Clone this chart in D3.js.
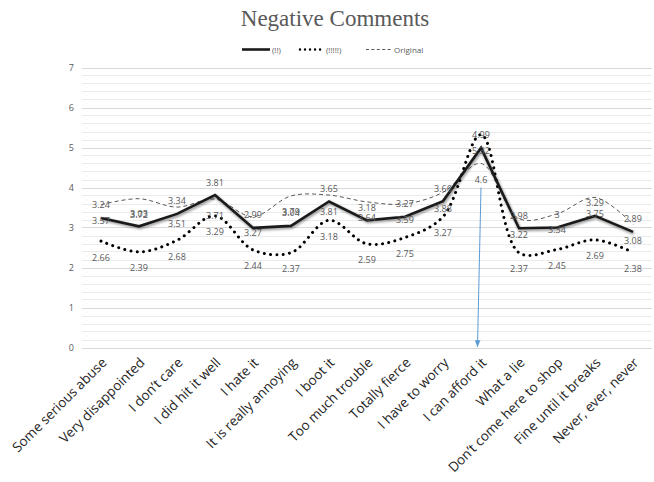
<!DOCTYPE html>
<html>
<head>
<meta charset="utf-8">
<script src="https://cdn.jsdelivr.net/npm/d3@7"></script>
<style>
  html, body { margin: 0; padding: 0; background: #fff; }
  svg { display: block; }
</style>
</head>
<body>
<svg id="chart" width="654" height="482"></svg>
<script>
// Comment phrases along the x axis
const categories = [
  "Some serious abuse", "Very disappointed", "I don’t care", "I did hit it well",
  "I hate it", "It is really annoying", "I boot it", "Too much trouble",
  "Totally fierce", "I have to worry", "I can afford it", "What a lie",
  "Don’t come here to shop", "Fine until it breaks", "Never, ever, never"
];
// Mean scores per phrase
const doubleBang = [3.24, 3.03, 3.34, 3.81, 2.99, 3.04, 3.65, 3.18, 3.27, 3.66, 4.99, 2.98, 3, 3.29, 2.89];
const fiveBang   = [2.66, 2.39, 2.68, 3.29, 2.44, 2.37, 3.18, 2.59, 2.75, 3.27, 5.32, 2.37, 2.45, 2.69, 2.38];
const original   = [3.57, 3.72, 3.51, 3.71, 3.27, 3.79, 3.81, 3.64, 3.59, 3.88, 4.6, 3.22, 3.34, 3.75, 3.08];
const seriesNames = ["(!!)", "(!!!!!)", "Original"];
const yTicks = [0, 1, 2, 3, 4, 5, 6, 7];
const titleText = "Negative Comments";

const svg = d3.select("#chart");
const textColor = "#595959";
const sans = "'Open Sans', 'Liberation Sans', sans-serif";

const x = d3.scalePoint().domain(categories).range([82, 652]).padding(0.5);
const y = d3.scaleLinear().domain([0, 7]).range([347.5, 67.5]);

// soft shadow for the heavy line
const defs = svg.append("defs");
defs.append("filter").attr("id", "soft")
  .attr("x", "-5%").attr("y", "-20%").attr("width", "110%").attr("height", "140%")
  .append("feGaussianBlur").attr("stdDeviation", 1.2);
defs.append("marker").attr("id", "arrow")
  .attr("viewBox", "0 0 10 10").attr("refX", 9).attr("refY", 5)
  .attr("markerWidth", 7).attr("markerHeight", 7).attr("orient", "auto")
  .append("path").attr("d", "M0,1 L10,5 L0,9 Z").attr("fill", "#5b9bd5");

// gridlines: minor every 0.2, major every 1
const minor = d3.range(0, 7.0001, 0.2);
svg.append("g").selectAll("line").data(minor).join("line")
  .attr("x1", 82).attr("x2", 652)
  .attr("y1", d => Math.round(y(d)) + 0.5).attr("y2", d => Math.round(y(d)) + 0.5)
  .attr("stroke", "#ebebeb").attr("stroke-width", 1);
svg.append("g").selectAll("line").data(yTicks).join("line")
  .attr("x1", 82).attr("x2", 652)
  .attr("y1", d => Math.round(y(d)) + 0.5).attr("y2", d => Math.round(y(d)) + 0.5)
  .attr("stroke", "#d9d9d9").attr("stroke-width", 1);

// y axis labels
const yAxis = d3.axisLeft(y).tickValues(yTicks).tickSize(0).tickPadding(0).tickFormat(d3.format("d"));
const gy = svg.append("g").attr("transform", "translate(74,0)").call(yAxis);
gy.select(".domain").remove();
gy.selectAll("text").attr("fill", textColor).attr("font-family", sans).attr("font-size", 9);

// category labels, rotated
const xAxis = d3.axisBottom(x).tickSize(0).tickPadding(0);
const gx = svg.append("g").attr("transform", "translate(0,347.5)").call(xAxis);
gx.select(".domain").remove();
gx.selectAll("text")
  .attr("fill", "#262626").attr("font-family", sans).attr("font-size", 13.5)
  .attr("text-anchor", "end").attr("dy", 0).attr("y", 0)
  .attr("transform", "translate(6,16) rotate(-45)");

const straight = d3.line().x((d, i) => x(categories[i])).y(d => y(d));
const smooth = d3.line().x((d, i) => x(categories[i])).y(d => y(d)).curve(d3.curveCatmullRom.alpha(0.5));

// Original: thin dashed line
svg.append("path").datum(original).attr("d", smooth)
  .attr("fill", "none").attr("stroke", "#595959").attr("stroke-width", 1)
  .attr("stroke-dasharray", "4,3");

// (!!!!!): round dotted line
svg.append("path").datum(fiveBang).attr("d", smooth)
  .attr("fill", "none").attr("stroke", "#000").attr("stroke-width", 3)
  .attr("stroke-linecap", "round").attr("stroke-dasharray", "0.01,6.3");

// (!!): heavy solid line with shadow
svg.append("path").datum(doubleBang).attr("d", straight)
  .attr("fill", "none").attr("stroke", "#000").attr("stroke-opacity", 0.35)
  .attr("stroke-width", 3.5).attr("filter", "url(#soft)")
  .attr("transform", "translate(1,1.5)");
svg.append("path").datum(doubleBang).attr("d", straight)
  .attr("fill", "none").attr("stroke", "#1a1a1a").attr("stroke-width", 2.6)
  .attr("stroke-linejoin", "miter");

// data labels
const labelFmt = d => String(d);
function labels(data, dy) {
  svg.append("g").selectAll("text").data(data).join("text")
    .attr("x", (d, i) => x(categories[i]))
    .attr("y", d => y(d) + dy)
    .attr("text-anchor", "middle")
    .attr("font-family", sans).attr("font-size", 9)
    .attr("fill", textColor)
    .text(labelFmt);
}
labels(doubleBang, -9.5);
labels(original, 19.5);
labels(fiveBang, 19.5);

// blue pointer to the peak phrase
const peakX = x("I can afford it");
svg.append("line")
  .attr("x1", peakX).attr("y1", y(4.0))
  .attr("x2", peakX - 3.5).attr("y2", y(0) - 1)
  .attr("stroke", "#5b9bd5").attr("stroke-width", 1)
  .attr("marker-end", "url(#arrow)");

// title
svg.append("text").attr("x", 335).attr("y", 26).attr("text-anchor", "middle")
  .attr("font-family", "'Liberation Serif', serif").attr("font-size", 23)
  .attr("fill", textColor).text(titleText);

// legend
const legend = svg.append("g").attr("transform", "translate(0,49.5)");
const legendItems = [
  { name: seriesNames[0], x0: 242, x1: 270, width: 2.6, dash: null, color: "#1a1a1a", cap: "butt" },
  { name: seriesNames[1], x0: 300, x1: 324, width: 2.4, dash: "0.01,5", color: "#000", cap: "round" },
  { name: seriesNames[2], x0: 366, x1: 392, width: 1, dash: "3,2.4", color: "#595959", cap: "butt" }
];
legendItems.forEach(it => {
  legend.append("line").attr("x1", it.x0).attr("x2", it.x1).attr("y1", 0).attr("y2", 0)
    .attr("stroke", it.color).attr("stroke-width", it.width)
    .attr("stroke-linecap", it.cap)
    .attr("stroke-dasharray", it.dash);
  legend.append("text").attr("x", it.x1 + 2).attr("y", 3)
    .attr("font-family", sans).attr("font-size", 8).attr("fill", textColor)
    .text(it.name);
});
</script>
</body>
</html>
